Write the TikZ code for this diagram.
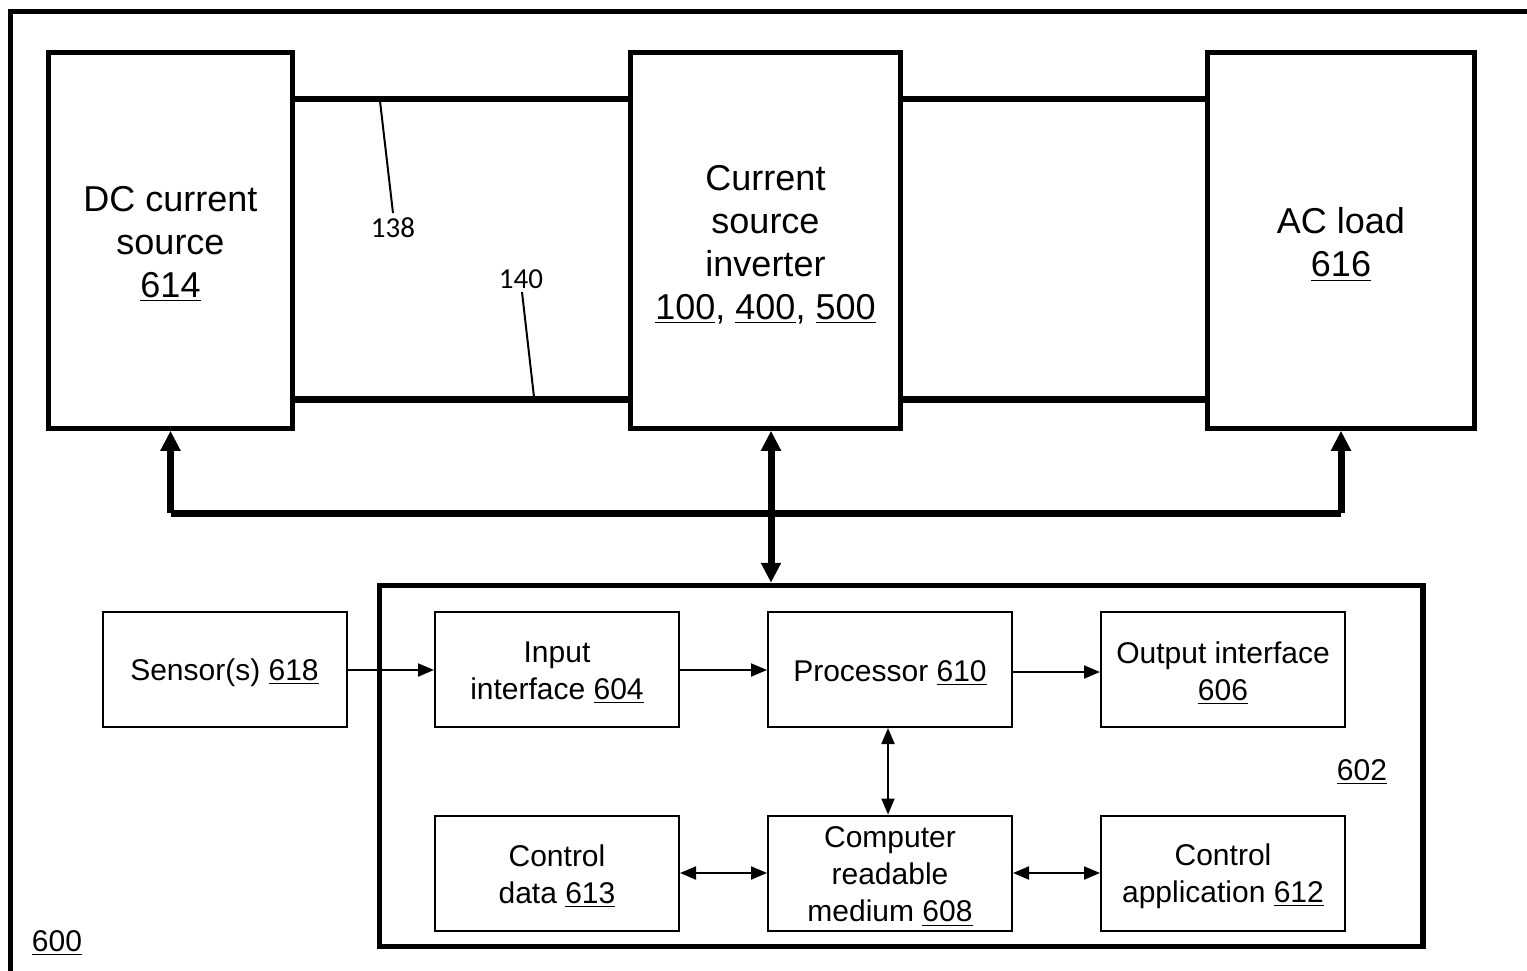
\documentclass[tikz,border=0pt]{standalone}
\usepackage{fontspec}
\setmainfont{Liberation Sans}
\newfontfamily\calib{Carlito}
\usetikzlibrary{arrows.meta}
\begin{document}
\begin{tikzpicture}[x=0.5pt,y=-0.5pt,
  bigbox/.style={draw, line width=2.25pt, inner sep=0pt, minimum width=122pt, minimum height=188pt},
  bigtxt/.style={inner sep=0pt, align=center, font=\fontsize{18}{21.5}\selectfont},
  smallbox/.style={draw, line width=1pt, inner sep=0pt, minimum width=122pt, minimum height=57.5pt},
  smalltxt/.style={inner sep=0pt, align=center, font=\fontsize{15}{18.5}\selectfont},
  bus/.style={line width=3.3pt},
  bigarrow/.style={line width=3.5pt, -{Triangle[width=9.5pt,length=10pt]}},
  bigdarrow/.style={line width=3.5pt, {Triangle[width=9.5pt,length=10pt]}-{Triangle[width=9.5pt,length=10pt]}},
  thinarrow/.style={line width=1pt, -{Triangle[width=6.5pt,length=8pt]}},
  thindarrow/.style={line width=1pt, {Triangle[width=6.5pt,length=8pt]}-{Triangle[width=6.5pt,length=8pt]}},
  leader/.style={line width=1pt},
  reflabel/.style={inner sep=0pt, font=\fontsize{15}{18}\selectfont},
  leadlabel/.style={inner sep=0pt, font=\calib\fontsize{14.5}{17}\selectfont}
]
\useasboundingbox (0,0) rectangle (1527,970);
\fill[white] (0,0) rectangle (1527,970);
% outer frame (cut off at right and bottom)
\draw[line width=2.5pt] (1545,11) -- (10,11) -- (10,995);

% top row
\node[bigbox] (dc) at (170.5,240.5) {};
\node[bigtxt] (dct) at (170.5,244) {DC current\\source\\\underline{614}};
\node[bigbox, minimum width=135pt] (inv) at (765.5,240.5) {};
\node[bigtxt] (invt) at (765.5,244.5) {Current\\source\\inverter\\\underline{100}, \underline{400}, \underline{500}};
\node[bigbox, minimum width=133.5pt] (ac) at (1341,240.5) {};
\node[bigtxt] (act) at (1341,244.5) {AC load\\\underline{616}};

% DC bus lines
\draw[bus] (dc.east |- 0,99) -- (inv.west |- 0,99);
\draw[bus] (dc.east |- 0,399.5) -- (inv.west |- 0,399.5);
\draw[bus] (inv.east |- 0,99) -- (ac.west |- 0,99);
\draw[bus] (inv.east |- 0,399.5) -- (ac.west |- 0,399.5);

% leaders
\node[leadlabel] (l138) at (393,228) {138};
\node[leadlabel] (l140) at (521,279) {140};
\coordinate (p138) at (380,101);
\coordinate (p140) at (534,397);
\draw[leader] (p138) -- (393,213);
\draw[leader] (p140) -- (522,292);

% controller box
\node[draw, line width=2.75pt, inner sep=0pt, minimum width=521.75pt, minimum height=180.5pt] (ctl) at (901.25,766) {};
\node[reflabel] (l602) at (1362,772) {\underline{602}};
\node[reflabel] (l600) at (57,943) {\underline{600}};

% control bus
\coordinate (bl) at (170,513);
\coordinate (br) at (1341,513);
\coordinate (cx) at (771,513);
\draw[bus, line width=3.5pt] (ac.south |- br) -- (dc.south |- bl);
\draw[bigarrow] (dc.south |- bl) -- (dc.south);
\draw[bigarrow] (ac.south |- br) -- (ac.south);
\draw[bigdarrow] (cx |- inv.south) -- (cx |- ctl.north);

% small boxes
\node[smallbox] (sen) at (224.5,669) {};
\node[smalltxt] (sent) at (224.5,672.5) {Sensor(s) \underline{618}};
\node[smallbox] (inp) at (557,669.5) {};
\node[smalltxt] (inpt) at (557,673) {Input\\interface \underline{604}};
\node[smallbox] (proc) at (890,669.5) {};
\node[smalltxt] (proct) at (890,673) {Processor \underline{610}};
\node[smallbox] (out) at (1223,669.5) {};
\node[smalltxt] (outt) at (1223,673) {Output interface\\\underline{606}};
\node[smallbox] (cd) at (557,873) {};
\node[smalltxt] (cdt) at (557,876.5) {Control\\data \underline{613}};
\node[smallbox] (crm) at (890,873) {};
\node[smalltxt] (crmt) at (890,876.5) {Computer\\readable\\medium \underline{608}};
\node[smallbox] (capp) at (1223,873) {};
\node[smalltxt] (cappt) at (1223,876.5) {Control\\application \underline{612}};

\draw[thinarrow] (sen.east |- 0,670) -- (inp.west |- 0,670);
\draw[thinarrow] (inp.east |- 0,670) -- (proc.west |- 0,670);
\draw[thinarrow] (proc.east |- 0,672) -- (out.west |- 0,672);
\draw[thindarrow] ([xshift=-1pt]proc.south) -- ([xshift=-1pt]crm.north);
\draw[thindarrow] (cd.east) -- (crm.west);
\draw[thindarrow] (crm.east) -- (capp.west);
\end{tikzpicture}
\end{document}
